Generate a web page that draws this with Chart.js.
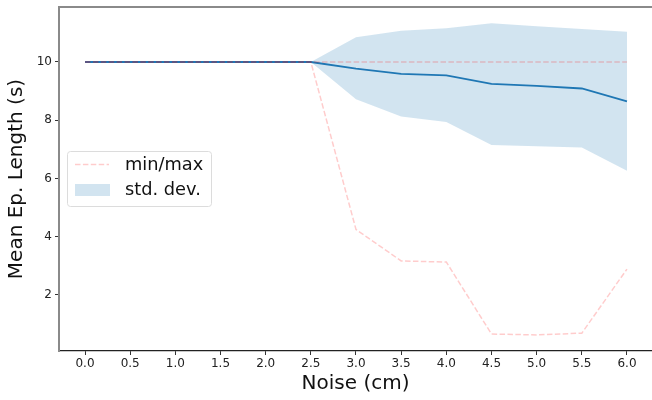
<!DOCTYPE html>
<html>
<head>
<meta charset="utf-8">
<script src="https://cdn.jsdelivr.net/npm/chart.js@4"></script>
<style>
  html, body { margin: 0; padding: 0; background: #fff; overflow: hidden; }
  #wrap { width: 652px; height: 400px; }
</style>
</head>
<body>
<div id="wrap"><canvas id="chart" width="652" height="400"></canvas></div>
<script>
// values
const noise = [0.0, 0.5, 1.0, 1.5, 2.0, 2.5, 3.0, 3.5, 4.0, 4.5, 5.0, 5.5, 6.0];
const meanLen = [10, 10, 10, 10, 10, 10, 9.77, 9.59, 9.54, 9.25, 9.18, 9.09, 8.65];
const stdUpper = [10, 10, 10, 10, 10, 10, 10.85, 11.07, 11.16, 11.33, 11.23, 11.13, 11.04];
const stdLower = [10, 10, 10, 10, 10, 10, 8.72, 8.13, 7.94, 7.15, 7.11, 7.06, 6.27];
const minLen = [10, 10, 10, 10, 10, 10, 4.25, 3.17, 3.13, 0.66, 0.63, 0.69, 2.89];
const maxLen = [10, 10, 10, 10, 10, 10, 10, 10, 10, 10, 10, 10, 10];
const yTicks = [2, 4, 6, 8, 10];
const legendLabels = ["min/max", "std. dev."];

const FONT = "'DejaVu Sans', sans-serif";
const blue = "#1f77b4";
const band = "rgba(31, 119, 180, 0.2)";
const pink = "rgba(255, 0, 0, 0.2)";
const dash = [5.5, 2.4];

function pts(arr) {
  return noise.map((x, i) => ({ x: x, y: arr[i] }));
}

// top spine and the floating legend box
const extras = {
  id: "extras",
  afterDraw(c) {
    const { ctx, chartArea: a } = c;
    ctx.save();
    ctx.strokeStyle = "#8a8a8a";
    ctx.lineWidth = 2;
    ctx.beginPath();
    ctx.moveTo(a.left - 1, a.top);
    ctx.lineTo(a.right, a.top);
    ctx.stroke();

    // legend
    const bx = 67.5, by = 151.5, bw = 144, bh = 55, r = 3;
    ctx.fillStyle = "rgba(255,255,255,0.8)";
    ctx.strokeStyle = "#dcdcdc";
    ctx.lineWidth = 1;
    ctx.beginPath();
    ctx.roundRect(bx, by, bw, bh, r);
    ctx.fill();
    ctx.stroke();

    ctx.strokeStyle = pink;
    ctx.lineWidth = 1.5;
    ctx.setLineDash(dash);
    ctx.beginPath();
    ctx.moveTo(75, 164.5);
    ctx.lineTo(109, 164.5);
    ctx.stroke();
    ctx.setLineDash([]);

    ctx.fillStyle = band;
    ctx.fillRect(75, 184, 35, 12);

    ctx.fillStyle = "#111";
    ctx.font = "17.8px " + FONT;
    ctx.textBaseline = "middle";
    ctx.fillText(legendLabels[0], 125, 165);
    ctx.fillText(legendLabels[1], 125, 190);
    ctx.restore();
  }
};

new Chart(document.getElementById("chart").getContext("2d"), {
  type: "line",
  data: {
    datasets: [
      {
        label: "std upper",
        data: pts(stdUpper),
        borderWidth: 0,
        borderColor: "rgba(0,0,0,0)",
        backgroundColor: band,
        fill: "+1",
        order: 3,
      },
      {
        label: "std lower",
        data: pts(stdLower),
        borderWidth: 0,
        borderColor: "rgba(0,0,0,0)",
        backgroundColor: band,
        fill: false,
        order: 3,
      },
      {
        label: "mean",
        data: pts(meanLen),
        borderColor: blue,
        borderWidth: 1.8,
        fill: false,
        order: 2,
      },
      {
        label: "max",
        data: pts(maxLen),
        borderColor: pink,
        borderWidth: 1.5,
        borderDash: dash,
        fill: false,
        order: 1,
      },
      {
        label: "min",
        data: pts(minLen),
        borderColor: pink,
        borderWidth: 1.5,
        borderDash: dash,
        fill: false,
        order: 1,
      },
    ],
  },
  options: {
    responsive: false,
    animation: false,
    devicePixelRatio: 1,
    elements: { point: { radius: 0 }, line: { tension: 0 } },
    layout: { padding: { top: 7, left: 0, right: 0, bottom: 0 } },
    plugins: { legend: { display: false }, tooltip: { enabled: false } },
    scales: {
      x: {
        type: "linear",
        min: -0.288,
        max: 6.277,
        afterBuildTicks: (s) => { s.ticks = noise.map((v) => ({ value: v })); },
        afterFit: (s) => { s.height = 49; s.paddingLeft = 0; s.paddingRight = 0; },
        grid: { display: true, drawOnChartArea: false, drawTicks: true, tickLength: 4, color: "#333" },
        border: { display: true, color: "#222", width: 1.2 },
        ticks: {
          padding: 2,
          color: "#222",
          font: { family: FONT, size: 12 },
          maxRotation: 0,
          autoSkip: false,
          callback: (v) => Number(v).toFixed(1),
        },
        title: {
          display: true,
          text: "Noise (cm)",
          color: "#111",
          font: { family: FONT, size: 20 },
          padding: { top: 0, bottom: 4 },
        },
      },
      y: {
        type: "linear",
        min: 0.077,
        max: 11.888,
        afterBuildTicks: (s) => { s.ticks = yTicks.map((v) => ({ value: v })); },
        afterFit: (s) => { s.width = 59; s.paddingTop = 0; s.paddingBottom = 0; },
        grid: { display: true, drawOnChartArea: false, drawTicks: true, tickLength: 4, color: "#333" },
        border: { display: true, color: "#8a8a8a", width: 2 },
        ticks: {
          padding: 3,
          color: "#222",
          font: { family: FONT, size: 12 },
          autoSkip: false,
          callback: (v) => String(v),
        },
        title: {
          display: true,
          text: "Mean Ep. Length (s)",
          color: "#111",
          font: { family: FONT, size: 20 },
          padding: { top: 5, bottom: 0 },
        },
      },
    },
  },
  plugins: [extras],
});
</script>
</body>
</html>
